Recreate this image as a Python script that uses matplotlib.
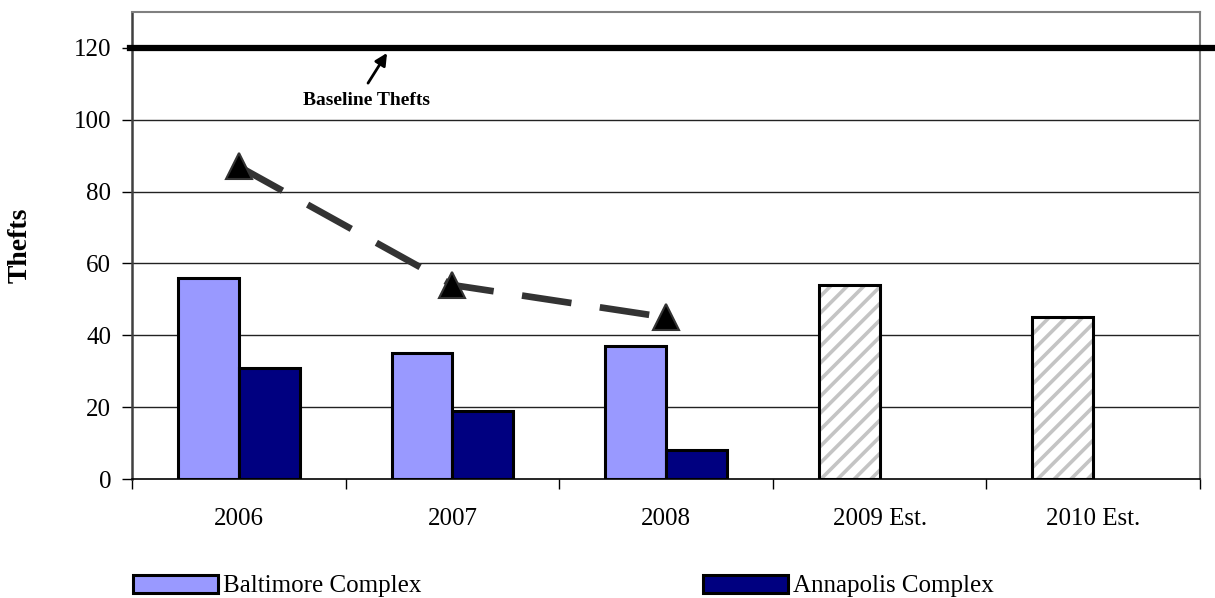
import matplotlib
matplotlib.use("Agg")
import matplotlib.pyplot as plt
import numpy as np
from matplotlib.patches import Patch

plt.rcParams['font.family'] = ['Liberation Serif', 'DejaVu Serif']
plt.rcParams['hatch.linewidth'] = 2.6

categories = ["2006", "2007", "2008", "2009 Est.", "2010 Est."]
baltimore = [56, 35, 37]
annapolis = [31, 19, 8]
estimates = [54, 45]
totals = [87, 54, 45]
baseline = 120
yticks = [0, 20, 40, 60, 80, 100, 120]

fig = plt.figure(figsize=(12.15, 5.98), dpi=100)
ax = fig.add_axes([132/1215, 1 - 479/598, (1200 - 132)/1215, (479 - 12)/598])

x = np.arange(len(categories))
w = 0.285

for yv in yticks[1:]:
    ax.axhline(yv, color='#222222', lw=1.0, zorder=0)

ax.bar(x[:3] - w/2, baltimore, w, color='#9999ff', edgecolor='black', lw=2.2, zorder=2)
ax.bar(x[:3] + w/2, annapolis, w, color='#000080', edgecolor='black', lw=2.2, zorder=2)
# estimated years: light grey hatching inside a black outline
ax.bar(x[3:] - w/2, estimates, w, color='white', edgecolor='#c4c4c4', lw=0,
       hatch='//', zorder=2)
ax.bar(x[3:] - w/2, estimates, w, fill=False, edgecolor='black', lw=2.2, zorder=2.5)

ax.plot(x[:3], totals, color='#333333', lw=4.8, dashes=(7.5, 4.3),
        marker='^', markersize=19, markerfacecolor='black',
        markeredgecolor='#333333', markeredgewidth=1.5, zorder=4)

ax.axhline(baseline, xmin=-0.002, xmax=1.02, color='black', lw=4.5,
           clip_on=False, zorder=3)
ax.annotate("", xy=(0.694, 118.6), xytext=(0.605, 110.2),
            arrowprops=dict(arrowstyle='-|>', color='black', lw=2,
                            mutation_scale=18, shrinkA=0, shrinkB=0))
ax.text(0.596, 105.5, "Baseline Thefts", fontsize=14, fontweight='bold',
        ha='center', va='center')

ax.set_xlim(-0.5, 4.5)
ax.set_ylim(0, 130)
ax.set_yticks(yticks)
ax.set_xticks(x)
ax.set_xticklabels(categories)
ax.set_xticks(np.arange(-0.5, 5, 1), minor=True)
ax.tick_params(axis='x', which='major', length=0, pad=21, labelsize=18)
ax.tick_params(axis='x', which='minor', length=7, width=1, color='black')
ax.tick_params(axis='y', length=7, width=1, pad=8, labelsize=18)

ax.set_ylabel("Thefts", fontsize=20, fontweight='bold')
ax.yaxis.set_label_coords((33 - 132) / (1200 - 132), 0.5)

for side in ('top', 'right'):
    ax.spines[side].set_color('#808080')
    ax.spines[side].set_linewidth(1.5)
ax.spines['left'].set_color('#404040')
ax.spines['left'].set_linewidth(1.8)
ax.spines['bottom'].set_color('black')
ax.spines['bottom'].set_linewidth(1.2)

leg_kw = dict(frameon=False, fontsize=18, handlelength=3.4, handleheight=0.72,
              handletextpad=0.2, borderpad=0, borderaxespad=0)
fig.legend(handles=[Patch(facecolor='#9999ff', edgecolor='black', lw=2.2)],
           labels=["Baltimore Complex"], loc='center left',
           bbox_to_anchor=(133/1215, 1 - 586/598), **leg_kw)
fig.legend(handles=[Patch(facecolor='#000080', edgecolor='black', lw=2.2)],
           labels=["Annapolis Complex"], loc='center left',
           bbox_to_anchor=(703/1215, 1 - 586/598), **leg_kw)

fig.savefig("out.png", dpi=100)
